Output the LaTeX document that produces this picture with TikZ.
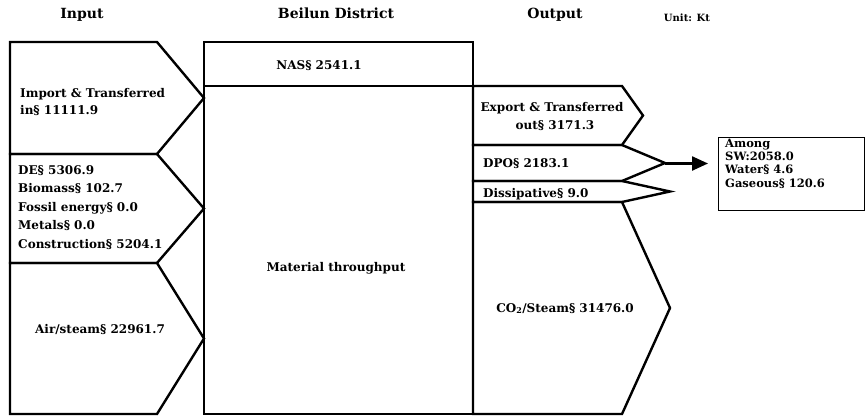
\documentclass[tikz,border=0pt]{standalone}
\usepackage{fontspec}
\setmainfont{DejaVu Serif}
\usetikzlibrary{arrows.meta,positioning}

\begin{document}
\begin{tikzpicture}[x=1pt,y=-1pt,
    every node/.style={font=\fontsize{12}{18.5}\selectfont\bfseries, inner sep=0pt},
    head/.style={font=\fontsize{14}{16}\selectfont\bfseries, anchor=base},
    flow/.style={draw, line width=2.4pt, line join=miter}]
    \useasboundingbox (0,0) rectangle (866,417);
    % headings
    \node[head] (hin) at (82,19) {Input};
    \node[head] (hdist) at (336,19) {Beilun District};
    \node[head] (hout) at (555,19) {Output};
    \node[head, font=\fontsize{10}{12}\selectfont\bfseries] (unit) at (687,22) {Unit: Kt};
    % district box
    \draw[line width=1.3pt] (204,42) rectangle (473,414);
    \draw[line width=2.4pt] (204,86) -- (473,86);
    \node (nas) at (319,66) {NAS\S{} 2541.1};
    \node (mat) at (336,268) {Material throughput};
    % input flows
    \foreach \t/\b in {42/154,154/263,263/414}{
        \draw[flow] (10,\t) -- (157,\t) -- (204,{(\t+\b)/2}) -- (157,\b) -- (10,\b) -- cycle;
    }
    \node[anchor=base west] (imp1) at (20,98) {Import \& Transferred};
    \node[anchor=base west] (imp2) at (20,114) {in\S{} 11111.9};
    \foreach \txt [count=\k] in {DE\S{} 5306.9, Biomass\S{} 102.7, Fossil energy\S{} 0.0,
        Metals\S{} 0.0, Construction\S{} 5204.1}{
        \node[anchor=base west] (de\k) at (18,{174+18.5*(\k-1)}) {\txt};
    }
    \node[anchor=base] (air) at (100,333) {Air/steam\S{} 22961.7};
    % output flows
    \foreach \t/\b/\tip in {86/145/643,145/181/665,181/202/670,202/414/670}{
        \draw[flow] (473,\t) -- (622,\t) -- (\tip,{(\t+\b)/2}) -- (622,\b) -- (473,\b) -- cycle;
    }
    \coordinate (dpotip) at (665,163.5);
    \node[anchor=base] (exp1) at (552,111) {Export \& Transferred};
    \node[anchor=base] (exp2) at (555,129) {out\S{} 3171.3};
    \node[anchor=base west] (dpo) at (483,167) {DPO\S{} 2183.1};
    \node[anchor=base west] (diss) at (483,197) {Dissipative\S{} 9.0};
    \node[anchor=base] (co2) at (565,312) {CO\textsubscript{2}/Steam\S{} 31476.0};
    % among box
    \node[draw, line width=1.2pt, minimum width=146pt, minimum height=73pt, anchor=north west] (among) at (718,137) {};
    \node[anchor=north west, align=left, font=\fontsize{11.5}{13.2}\selectfont\bfseries] (amongtxt)
        at ([xshift=7pt,yshift=-2pt]among.north west) {Among\\SW:2058.0\\Water\S{} 4.6\\Gaseous\S{} 120.6};
    \draw[line width=2.4pt, -{Triangle[length=16pt,width=14pt]}, shorten >=10pt] (dpotip) -- (dpotip -| among.west);
\end{tikzpicture}
\end{document}
